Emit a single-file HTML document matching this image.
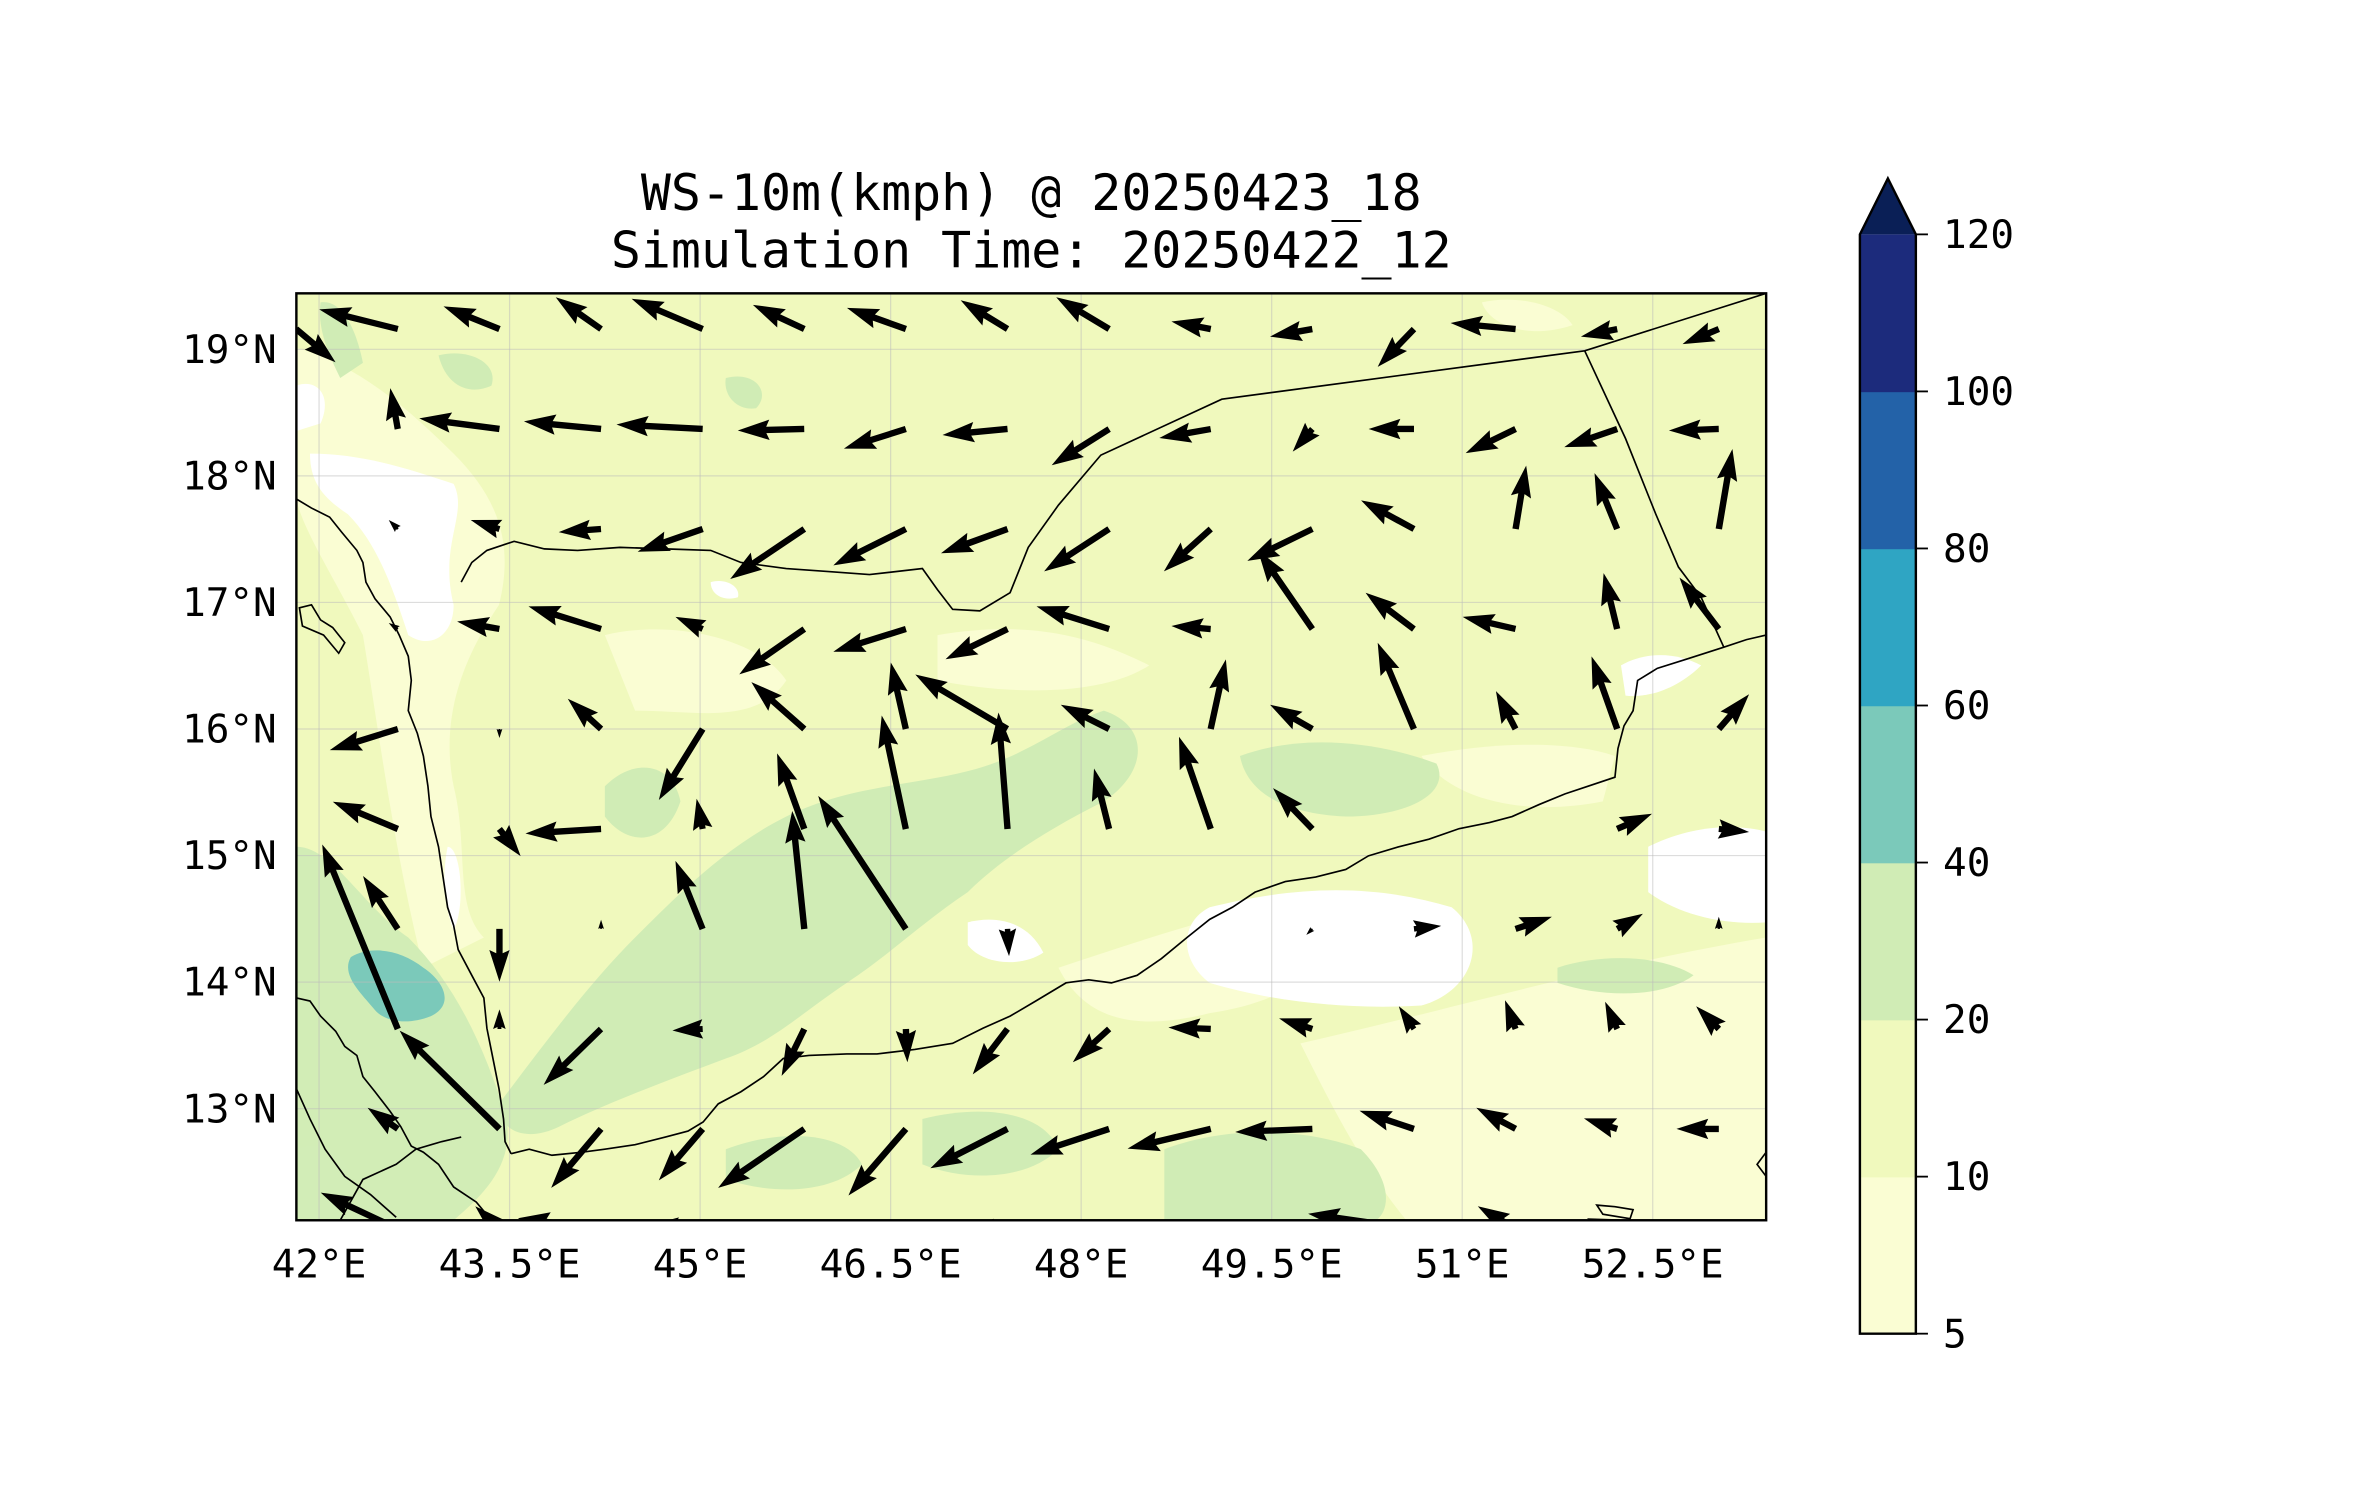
<!DOCTYPE html>
<html><head><meta charset="utf-8"><style>
html,body{margin:0;padding:0;background:#fff;}
svg{display:block;}
text{font-family:"DejaVu Sans Mono","Liberation Mono",monospace;fill:#000;}
</style></head><body>
<svg id="chart" xmlns="http://www.w3.org/2000/svg" width="2371" height="1500" viewBox="0 0 1568 992" preserveAspectRatio="none">
<defs><clipPath id="mapclip"><rect x="196" y="194" width="972" height="613"/></clipPath></defs>
<text x="682" y="139" font-size="33" text-anchor="middle">WS-10m(kmph) @ 20250423_18</text>
<text x="682" y="177" font-size="33" text-anchor="middle">Simulation Time: 20250422_12</text>
<g id="map" clip-path="url(#mapclip)">
<rect x="196" y="194" width="972" height="613" fill="#f0f9bd"/>
<g fill="#fafdd3">
<path d="M196,230 C230,240 260,260 300,300 C330,330 340,360 330,400 C310,430 290,470 300,520 C310,560 300,600 320,620 L280,640 C260,560 250,480 240,420 C220,380 200,350 196,330Z"/>
<path d="M860,690 C950,670 1050,640 1168,620 L1168,807 L930,807 C900,770 880,730 860,690Z"/>
<path d="M700,640 C760,620 820,600 880,590 C900,620 870,660 800,670 C760,680 720,680 700,640Z"/>
<path d="M400,420 C440,410 500,420 520,450 C500,480 460,470 420,470Z"/>
<path d="M620,420 C680,410 720,420 760,440 C730,460 670,460 620,450Z"/>
<path d="M940,500 C990,490 1040,490 1068,500 L1060,530 C1010,540 960,530 940,500Z"/>
<path d="M196,760 C220,750 240,770 230,807 L196,807Z"/>
<path d="M980,200 C1000,195 1030,200 1040,215 C1010,225 985,215 980,200Z"/>
</g>
<g fill="#ffffff">
<path d="M205,300 C240,300 270,310 300,320 C310,340 290,360 300,400 C300,420 285,430 270,420 C260,390 250,360 230,340 C215,330 205,320 205,300Z"/>
<path d="M196,255 C210,250 220,262 212,280 L196,285Z"/>
<path d="M800,600 C860,585 910,585 960,600 C985,620 975,655 940,665 C890,668 840,662 800,650 C780,635 780,610 800,600Z"/>
<path d="M1090,560 C1120,545 1150,545 1168,550 L1168,610 C1140,612 1110,605 1090,590Z"/>
<path d="M1072,440 C1090,430 1110,432 1125,440 C1110,455 1090,462 1075,460Z"/>
<path d="M640,610 C660,605 680,610 690,630 C675,640 650,638 640,625Z"/>
<path d="M296,560 C305,560 308,600 300,615 C294,600 292,580 296,560Z"/>
<path d="M470,385 C480,382 490,388 488,395 C478,398 470,393 470,385Z"/>
</g>
<g fill="#d0ecb5">
<path d="M196,560 C220,560 240,600 270,620 C300,650 320,690 335,740 C340,770 320,790 300,807 L196,807Z" opacity="0.95"/>
<path d="M330,730 C360,690 390,650 420,620 C450,590 480,560 520,540 C560,520 600,520 640,510 C680,500 700,480 730,470 C760,480 760,510 730,530 C690,550 660,570 640,590 C610,610 590,630 560,650 C530,670 510,690 480,700 C440,715 400,730 370,745 C350,755 330,750 330,730Z"/>
<path d="M770,760 C810,745 860,745 900,760 C920,780 920,800 910,807 L770,807Z"/>
<path d="M820,500 C860,485 910,490 950,505 C960,525 930,540 890,540 C850,538 825,525 820,500Z"/>
<path d="M560,540 C580,520 610,525 630,545 C620,570 590,580 570,570Z"/>
<path d="M290,235 C310,230 330,240 325,255 C310,262 295,255 290,235Z"/>
<path d="M480,250 C500,245 510,260 500,270 C488,272 478,262 480,250Z"/>
<path d="M400,520 C420,500 445,505 450,530 C440,560 415,560 400,540Z"/>
<path d="M212,200 C225,198 235,215 240,240 L225,250 C215,230 210,215 212,200Z"/>
<path d="M610,740 C650,730 690,735 700,760 C680,780 640,782 610,770Z"/>
<path d="M480,760 C520,745 560,750 570,770 C550,790 510,790 480,780Z"/>
<path d="M1030,640 C1060,630 1100,632 1120,645 C1100,660 1060,660 1030,650Z"/>
</g>
<path d="M232,633 C245,625 265,628 280,640 C295,650 300,665 285,672 C270,678 255,676 248,668 C240,658 225,645 232,633Z" fill="#7bc9ba"/>
<g id="grid" stroke="#bbbbbb" stroke-opacity="0.5" stroke-width="0.8"></g>
<g fill="none" stroke="#000" stroke-width="1.1">
<path d="M196,330 L206,336 L218,342 L226,352 L236,364 L240,372 L242,385 L248,396 L258,408 L264,420 L270,434 L272,450 L270,470 L276,485 L280,500 L283,520 L285,540 L290,560 L293,580 L296,600 L300,612 L303,628 L312,645 L320,660 L322,680 L325,695 L330,720 L333,740 L334,755 L338,763"/>
<path d="M338,763 L350,760 L365,764 L385,762 L400,760 L420,757 L440,752 L455,748 L465,742 L475,730 L490,722 L505,712 L518,700 L535,698 L560,697 L580,697 L605,694 L630,690 L650,680 L668,672 L685,662 L705,650 L720,648 L735,650 L752,645 L768,634 L785,620 L800,608 L815,600 L830,590 L850,583 L870,580 L890,575 L905,566 L925,560 L945,555 L965,548 L985,544 L1000,540 L1018,532 L1035,525 L1050,520 L1068,514 L1070,495 L1074,480 L1080,470 L1083,450 L1096,442 L1115,436 L1140,428 L1155,423 L1168,420"/>
<path d="M196,660 L205,662 L212,672 L222,682 L228,692 L236,698 L240,712 L248,722 L258,735 L265,745 L272,758 L280,762 L290,770 L300,785 L315,795 L325,807"/>
<path d="M196,720 L205,740 L215,760 L228,778 L245,790 L262,805 M225,807 L240,780 L262,770 L275,760 L292,755 L305,752"/>
<path d="M305,385 L312,372 L322,364 L340,358 L360,363 L382,364 L410,362 L440,363 L470,364 L490,372 L520,376 L548,378 L575,380 L610,376 L620,390 L630,403 L648,404 L668,392 L680,362 L700,334 L728,301 L808,264 L1048,232 L1168,194"/>
<path d="M1048,232 L1075,290 L1095,340 L1110,375 L1125,395 L1140,428"/>
<path d="M198,402 L206,400 L212,410 L220,415 L228,425 L224,432 L214,420 L200,414Z"/>
<path d="M1056,797 L1068,798 L1080,800 L1078,806 L1060,803Z"/>
<path d="M1168,762 L1162,770 L1168,778"/>
</g>
<g id="arrows" fill="#000"></g>
</g>
<rect x="196" y="194" width="972" height="613" fill="none" stroke="#000" stroke-width="1.6"/>
<g id="ylabels" font-size="26"></g>
<g id="xlabels" font-size="26"></g>
<g id="colorbar"></g>
</svg>
<script>
// ---- data ----
const lonTicks = [42, 43.5, 45, 46.5, 48, 49.5, 51, 52.5];
const lonTickLabels = ["42°E","43.5°E","45°E","46.5°E","48°E","49.5°E","51°E","52.5°E"];
const latTicks = [19, 18, 17, 16, 15, 14, 13];
const latTickLabels = ["19°N","18°N","17°N","16°N","15°N","14°N","13°N"];
const gridLons = [41.82,42.62,43.42,44.22,45.02,45.82,46.62,47.42,48.22,49.02,49.82,50.62,51.42,52.22,53.02];
const gridLats = [19.16,18.37,17.58,16.79,16.0,15.21,14.42,13.63,12.84,12.05];
const uWind = [
 [26,-52,-37,-30,-47,-34,-39,-31,-35,-26,-28,-24,-43,-24,-24],
 [-6,-5,-53,-51,-57,-44,-41,-43,-38,-34,-13,-30,-33,-35,-33],
 [0,-6,-19,-28,-43,-49,-48,-44,-43,-31,-43,-35,7,-15,9],
 [0,-6,-28,-48,-18,-43,-48,-41,-48,-26,-36,-32,-35,-9,-26],
 [0,-45,0,-22,-29,-35,-10,-61,-32,10,-28,-24,-13,-17,20],
 [0,-43,14,-50,-4,-18,-16,-6,-10,-21,-26,0,0,23,20],
 [0,-23,0,0,-18,-8,-58,1,0,0,-4,18,24,17,0],
 [0,-50,0,-38,-20,-15,1,-23,-24,-28,-22,-10,-7,-8,-15],
 [0,-20,-66,-33,-29,-57,-38,-51,-52,-55,-51,-36,-26,-22,-28],
 [0,-51,-16,-55,-37,-20,-20,-30,-20,0,0,-70,-25,-20,0]
];
const vWind = [
 [-22,13,15,21,20,16,14,19,21,5,-5,-25,4,-5,-10],
 [0,27,7,5,3,-1,-13,-4,-24,-6,-15,0,-16,-12,-1],
 [0,6,6,-2,-15,-33,-24,-16,-28,-28,-21,19,42,37,53],
 [0,4,5,15,8,-30,-15,-20,15,2,52,24,8,37,34],
 [0,-14,-6,20,-47,31,44,36,16,46,16,57,25,48,23],
 [0,18,-18,-3,20,50,75,77,40,61,27,0,0,10,-2],
 [0,35,-35,6,45,78,88,-18,0,0,-4,2,8,10,8],
 [0,122,13,-37,-1,-31,-22,-30,-22,1,7,15,19,18,15],
 [0,14,65,-39,-34,-39,-44,-26,-17,-13,-2,12,14,7,0],
 [0,24,15,7,2,0,0,0,0,0,0,10,15,7,0]
];
const cbLevels = [5,10,20,40,60,80,100,120];
const cbColors = ["#fafdd3","#f0f9bd","#d0ecb5","#7bc9ba","#2fa5c3","#2362a8","#1c2b7c"];
const cbExtendColor = "#0a1f56";

// ---- axes ----
const X0=196,X1=1168,Y0=194,Y1=807;
function xOf(lon){return 211+(lon-42)*84;}
function yOf(lat){return 231+(19-lat)*83.7;}
const NS="http://www.w3.org/2000/svg";
function mk(tag,attrs,parent){const e=document.createElementNS(NS,tag);for(const k in attrs)e.setAttribute(k,attrs[k]);parent.appendChild(e);return e;}

const grid=document.getElementById('grid');
lonTicks.forEach(function(l){
 const ln=mk('line',{x1:xOf(l),x2:xOf(l),y1:Y0,y2:Y1},grid);
 
 
});
latTicks.forEach(function(l){
 const ln=mk('line',{x1:X0,x2:X1,y1:yOf(l),y2:yOf(l)},grid);
 
 
});
const xl=document.getElementById('xlabels');
lonTicks.forEach(function(l,i){
 const t=mk('text',{x:xOf(l),y:845,'text-anchor':'middle'},xl);t.textContent=lonTickLabels[i];
 
 
});
const yl=document.getElementById('ylabels');
latTicks.forEach(function(l,i){
 const t=mk('text',{x:183,y:yOf(l)+9,'text-anchor':'end'},yl);t.textContent=latTickLabels[i];
 
 
});

// ---- arrows ----
const arrows=document.getElementById('arrows');
const SCALE=1.0, W=4.2;
for(let r=0;r<gridLats.length;r++){
 for(let c=0;c<gridLons.length;c++){
  const u=uWind[r][c], v=vWind[r][c];
  const dx=u*SCALE, dy=-v*SCALE, L=Math.hypot(dx,dy);
  if(L<1) continue;
  const tx=xOf(gridLons[c]), ty=yOf(gridLats[r]);
  let w=W, hl=5*W, hal=4.5*W, hw=3.2*W;
  if(L<hl){const s=L/hl; w*=s; hl*=s; hal*=s; hw*=s;}
  const pts=[[0,-w/2],[L-hal,-w/2],[L-hl,-hw/2],[L,0],[L-hl,hw/2],[L-hal,w/2],[0,w/2]];
  const ca=dx/L, sa=dy/L;
  const d=pts.map(function(p){return (tx+p[0]*ca-p[1]*sa).toFixed(1)+','+(ty+p[0]*sa+p[1]*ca).toFixed(1);}).join(' ');
  const pg=mk('polygon',{points:d},arrows);
  
  
 }
}

// ---- colorbar ----
const cb=document.getElementById('colorbar');
const CX=1230,CW=37,CT=155,CB=882;
const segH=(CB-CT)/(cbLevels.length-1);
function cbY(i){return CB-i*segH;}
cbColors.forEach(function(col,i){
 const r=mk('rect',{x:CX,y:cbY(i+1),width:CW,height:segH+0.5,fill:col},cb);
 
 
});
const tri=mk('polygon',{points:CX+','+CT+' '+(CX+CW/2)+',118 '+(CX+CW)+','+CT,fill:cbExtendColor},cb);


const outline=mk('polygon',{points:CX+','+CB+' '+CX+','+CT+' '+(CX+CW/2)+',118 '+(CX+CW)+','+CT+' '+(CX+CW)+','+CB,fill:'none',stroke:'#000','stroke-width':1.6},cb);


cbLevels.forEach(function(lv,i){
 const y=cbY(i);
 const tk=mk('line',{x1:CX+CW,x2:CX+CW+8,y1:y,y2:y,stroke:'#000','stroke-width':1.2},cb);
 
 
 const t=mk('text',{x:1285,y:y+9,'font-size':26},cb);t.textContent=String(lv);
 
 
});
</script>
</body></html>
